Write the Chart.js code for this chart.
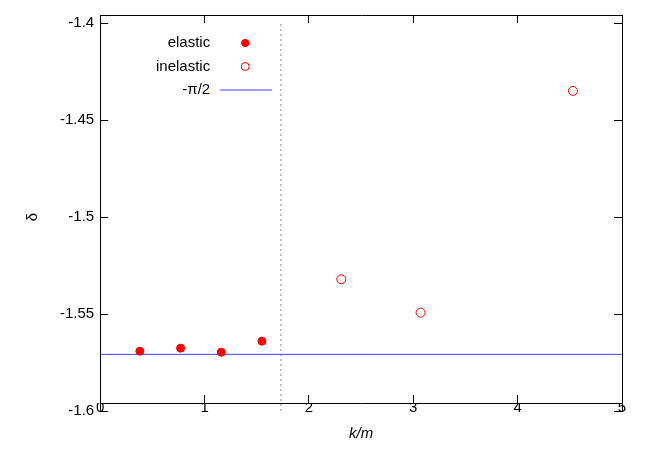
<!DOCTYPE html>
<html>
<head>
<script src="https://cdn.jsdelivr.net/npm/chart.js@4"></script>
<style>body{margin:0;background:#fff}#wrap{width:654px;height:457px}</style>
</head>
<body>
<div id="wrap"><canvas id="c"></canvas></div>
<script>
const elasticK = [0.38, 0.77, 1.16, 1.55];
const elasticDelta = [-1.5692, -1.5676, -1.5697, -1.5640];
const inelasticK = [2.31, 3.07, 4.53];
const inelasticDelta = [-1.5321, -1.5493, -1.4350];
const thresholdK = Math.sqrt(3);
const halfPi = -Math.PI / 2;
const xTicks = [0, 1, 2, 3, 4, 5];
const yTicks = [-1.6, -1.55, -1.5, -1.45, -1.4];

const legendItems = [
  { label: "elastic", kind: "filled" },
  { label: "inelastic", kind: "open" },
  { label: "-\u03c0/2", kind: "line" },
];

const legendPlugin = {
  id: "gpLegend",
  afterDraw(chart) {
    const ctx = chart.ctx;
    const a = chart.chartArea;
    ctx.save();
    ctx.font = "15px 'Liberation Sans', Arial, sans-serif";
    ctx.textAlign = "right";
    ctx.textBaseline = "middle";
    legendItems.forEach((it, i) => {
      const y = a.top + 20 + i * 23.5;
      ctx.fillStyle = "#000";
      ctx.fillText(it.label, a.left + 110, y);
      const sx = a.left + 145;
      if (it.kind === "line") {
        ctx.strokeStyle = "#4040ff";
        ctx.lineWidth = 1;
        ctx.beginPath();
        ctx.moveTo(a.left + 120, y);
        ctx.lineTo(a.left + 172, y);
        ctx.stroke();
      } else {
        ctx.beginPath();
        ctx.arc(sx, y, 4, 0, Math.PI * 2);
        if (it.kind === "filled") { ctx.fillStyle = "#f00"; ctx.fill(); }
        else { ctx.strokeStyle = "#f00"; ctx.lineWidth = 1; ctx.stroke(); }
      }
    });
    ctx.restore();
  },
};

const tickGrid = { drawOnChartArea: false, tickLength: -8, color: "#000" };
const font = { size: 15, family: "'Liberation Sans', Arial" };

new Chart(document.getElementById("c"), {
  type: "scatter",
  data: {
    datasets: [
      {
        label: "elastic",
        data: elasticK.map((k, i) => ({ x: k, y: elasticDelta[i] })),
        backgroundColor: "#f00",
        borderColor: "#f00",
        pointRadius: 4,
      },
      {
        label: "inelastic",
        data: inelasticK.map((k, i) => ({ x: k, y: inelasticDelta[i] })),
        backgroundColor: "rgba(0,0,0,0)",
        borderColor: "#f00",
        borderWidth: 1,
        pointRadius: 4.5,
      },
      {
        label: "-pi/2",
        data: [{ x: 0, y: halfPi }, { x: 5, y: halfPi }],
        showLine: true,
        borderColor: "#4040ff",
        borderWidth: 1,
        pointRadius: 0,
      },
      {
        label: "threshold",
        data: [{ x: thresholdK, y: -1.6 }, { x: thresholdK, y: -1.4 }],
        showLine: true,
        borderColor: "#888",
        borderWidth: 1,
        borderDash: [2, 3],
        pointRadius: 0,
      },
    ],
  },
  options: {
    responsive: true,
    maintainAspectRatio: false,
    animation: false,
    layout: { padding: { top: 15, right: 32, left: 20, bottom: 0 } },
    plugins: { legend: { display: false }, tooltip: { enabled: false } },
    scales: {
      x: {
        type: "linear",
        min: 0,
        max: 5,
        afterBuildTicks: (s) => { s.ticks = xTicks.map((v) => ({ value: v })); },
        grid: tickGrid,
        border: { color: "#000", width: 1 },
        ticks: { color: "#000", font, padding: 4 },
        title: { display: true, text: "k/m", color: "#000", padding: { top: 4, bottom: 6 }, font: { ...font, style: "italic" } },
      },
      y: {
        min: -1.6,
        max: -1.4,
        afterBuildTicks: (s) => { s.ticks = yTicks.map((v) => ({ value: v })); },
        grid: tickGrid,
        border: { color: "#000", width: 1 },
        ticks: { color: "#000", font, padding: 14, callback: (v) => String(Number(v.toFixed(2))) },
        title: { display: true, text: "\u03b4", color: "#000", font },
      },
      x2: { type: "linear", position: "top", min: 0, max: 5, afterBuildTicks: (s) => { s.ticks = xTicks.map((v) => ({ value: v })); }, grid: tickGrid, border: { color: "#000" }, ticks: { display: false } },
      y2: { position: "right", min: -1.6, max: -1.4, afterBuildTicks: (s) => { s.ticks = yTicks.map((v) => ({ value: v })); }, grid: tickGrid, border: { color: "#000" }, ticks: { display: false } },
    },
  },
  plugins: [legendPlugin],
});
</script>
</body>
</html>
